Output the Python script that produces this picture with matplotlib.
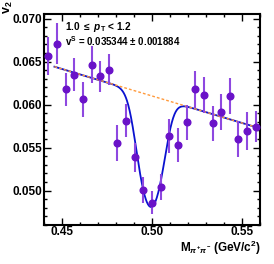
import numpy as np
import matplotlib.pyplot as plt
from matplotlib.ticker import MultipleLocator

# invariant mass bins (GeV/c^2), 25 bins from 0.44 to 0.56
mass = np.linspace(0.4424, 0.5576, 25)
v2 = [0.06568, 0.06710, 0.06176, 0.06348, 0.06060, 0.06466, 0.06331, 0.06408,
      0.05550, 0.05812, 0.05387, 0.05008, 0.04861, 0.05040, 0.05638, 0.05530,
      0.05794, 0.06176, 0.06110, 0.05782, 0.05916, 0.06099, 0.05596, 0.05693,
      0.05742]
v2_err = [0.0022, 0.0024, 0.0019, 0.0019, 0.0020, 0.0021, 0.0018, 0.0018,
          0.0021, 0.0019, 0.0017, 0.0015, 0.0013, 0.0015, 0.0020, 0.0020,
          0.0020, 0.0021, 0.0021, 0.0020, 0.0021, 0.0021, 0.0021, 0.0022,
          0.0018]

# fit parameters
v2_sig = 0.035344
v2_sig_err = 0.001884
bg_x0, bg_y0, bg_slope = 0.4461, 0.06439, -0.0628
peak_m, peak_sigma, peak_sb = 0.4993, 0.0055, 1.015
fit_lo, fit_hi = 0.4458, 0.5590


def v2_bg(x):
    return bg_y0 + bg_slope * (x - bg_x0)


def v2_tot(x):
    r = peak_sb * np.exp(-(x - peak_m)**2 / (2 * peak_sigma**2))
    f = r / (1 + r)
    return f * v2_sig + (1 - f) * v2_bg(x)


plt.rcParams['font.family'] = ['Liberation Sans', 'DejaVu Sans']
plt.rcParams['font.weight'] = 'bold'
plt.rcParams['mathtext.fontset'] = 'custom'
plt.rcParams['mathtext.rm'] = 'Liberation Sans:bold'
plt.rcParams['mathtext.it'] = 'Liberation Sans:italic:bold'
plt.rcParams['mathtext.bf'] = 'Liberation Sans:bold'

fig = plt.figure(figsize=(2.74, 2.64), dpi=100)
ax = fig.add_axes([0.1606, 0.1477, 0.7884, 0.7981])

xx = np.linspace(fit_lo, fit_hi, 600)
ax.plot(xx, v2_tot(xx), color='#0a12d0', lw=1.3, zorder=2)
ax.plot(xx, v2_bg(xx), color='#ff9a3c', lw=1.0, ls=(0, (2, 1.5)), zorder=3)

ax.errorbar(mass, v2, yerr=v2_err, fmt='o', color='#6a12c8', ecolor='#8e48e0',
            elinewidth=1.5, markersize=4.8, capsize=0, zorder=4)

ax.set_xlim(0.44, 0.56)
ax.set_ylim(0.046, 0.0705)
ax.xaxis.set_major_locator(MultipleLocator(0.05))
ax.xaxis.set_minor_locator(MultipleLocator(0.01))
ax.yaxis.set_major_locator(MultipleLocator(0.005))
ax.yaxis.set_minor_locator(MultipleLocator(0.001))
ax.xaxis.set_major_formatter(lambda v, p: f'{v:.2f}')
ax.yaxis.set_major_formatter(lambda v, p: f'{v:.3f}')
ax.tick_params(which='both', direction='in', top=True, right=True,
               labelsize=8.5, width=1.0, pad=1.5)
ax.tick_params(axis='x', pad=0.5)
ax.tick_params(which='major', length=5)
ax.tick_params(which='minor', length=2.5)
for s in ax.spines.values():
    s.set_linewidth(1.5)

ax.text(0.097, 0.925, r'1.0 $\leq$ $p_{\rm T}$ < 1.2', transform=ax.transAxes,
        fontsize=7.3, fontweight='bold', va='baseline')
ax.text(0.097, 0.851, r'v$^{\rm S}$ = %.6f $\pm$ %.6f' % (v2_sig, v2_sig_err),
        transform=ax.transAxes, fontsize=7.0, fontweight='bold', va='baseline')

fig.text(0.03, 0.998, r'v$_2$', rotation=90, ha='center', va='top',
         fontsize=9, fontweight='bold')
fig.text(0.953, 0.045, r'M$_{\pi^{+}\pi^{-}}$ (GeV/c$^2$)', ha='right', va='baseline',
         fontsize=8.5, fontweight='bold')

fig.savefig('out.png', dpi=100)
